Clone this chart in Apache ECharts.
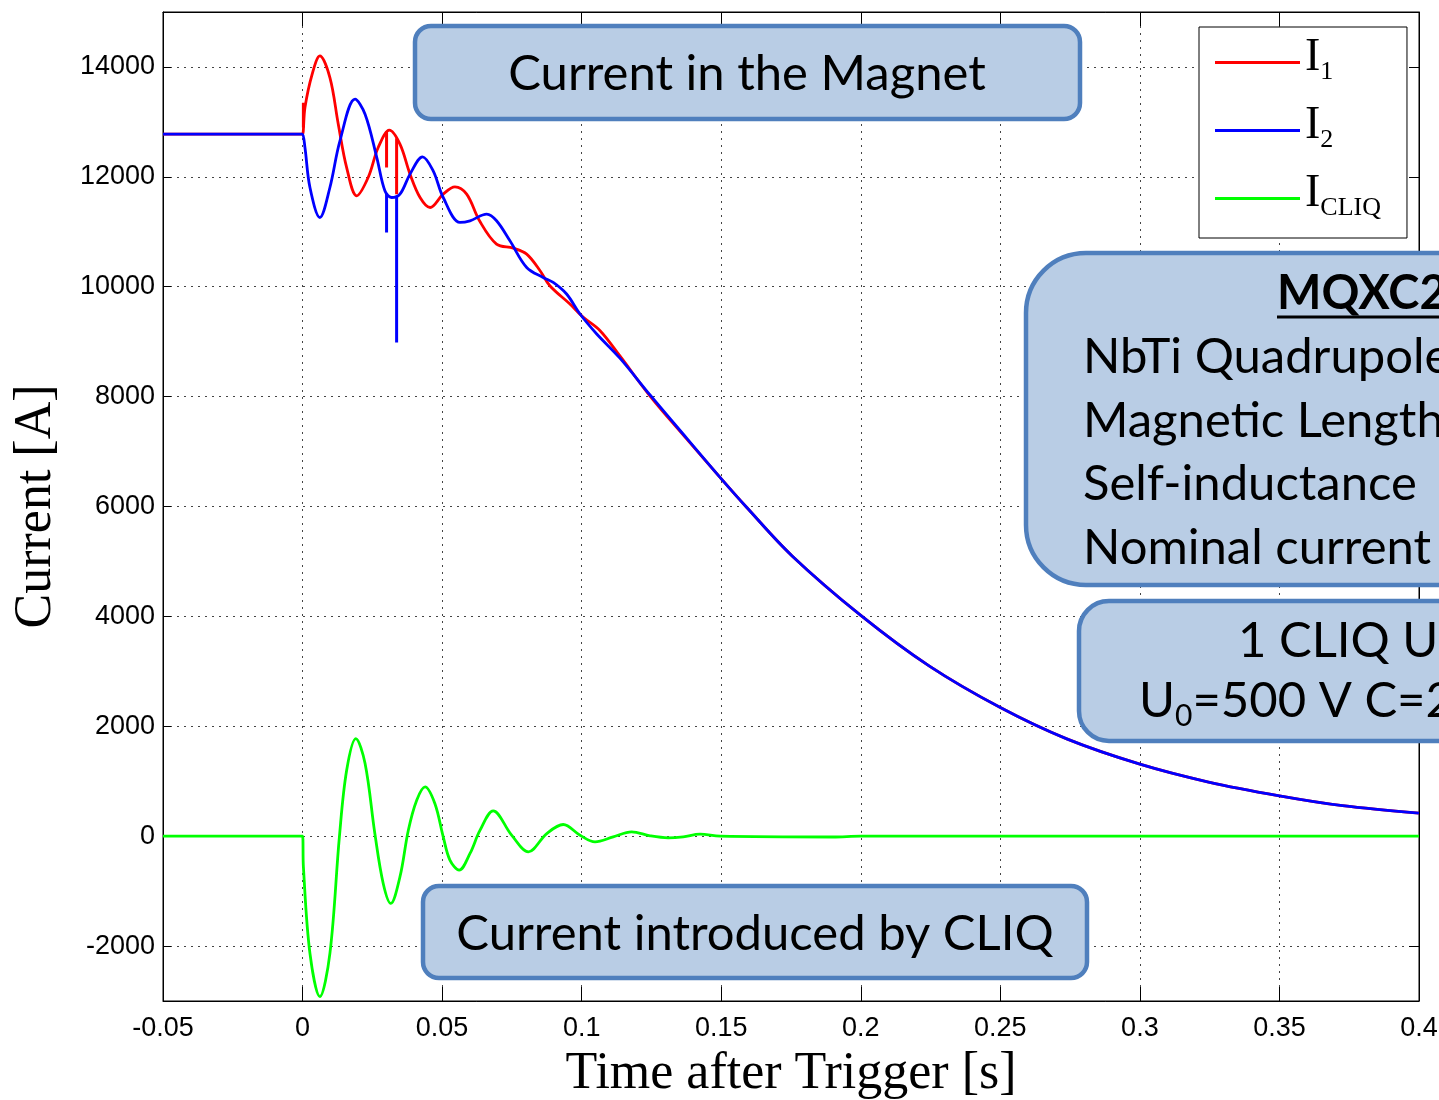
<!DOCTYPE html>
<html>
<head>
<meta charset="utf-8">
<script src="https://cdn.jsdelivr.net/npm/echarts@6/dist/echarts.min.js"></script>
<style>html,body{margin:0;padding:0;background:#fff;}#c{width:1439px;height:1100px;}</style>
</head>
<body>
<div id="c"></div>
<script>
// ---- data ----
const seriesNames = ['I1', 'I2', 'ICLIQ'];
const yTickValues = [-2000, 0, 2000, 4000, 6000, 8000, 10000, 12000, 14000];

const i1T = [-0.05, -0.0005, 0, 0.00086, 0.0034, 0.0062, 0.0098, 0.0128, 0.0158, 0.0194, 0.0235, 0.0271, 0.0311, 0.0349, 0.0385, 0.0421, 0.0457, 0.0504, 0.0546, 0.0588, 0.0634, 0.0695, 0.0755, 0.0803, 0.0851, 0.0886, 0.0958, 0.1006, 0.1066, 0.1137, 0.1245, 0.1376, 0.1502, 0.159, 0.1754, 0.2, 0.2246, 0.25, 0.2738, 0.3, 0.3246, 0.35, 0.3726, 0.4];
const i1V = [12776, 12776, 12776, 13260, 13860, 14200, 13806, 12958, 12169, 11655, 11988, 12533, 12849, 12594, 12049, 11624, 11442, 11685, 11818, 11685, 11200, 10776, 10703, 10594, 10291, 10018, 9685, 9442, 9200, 8740, 8010, 7230, 6493, 5990, 5100, 4018, 3094, 2340, 1770, 1310, 985, 734, 555, 418];

const i2T = [-0.05, -0.0005, 0, 0.00086, 0.00265, 0.0062, 0.0098, 0.0134, 0.0188, 0.0224, 0.0266, 0.0295, 0.0319, 0.0349, 0.0385, 0.043, 0.0468, 0.0504, 0.0564, 0.06, 0.066, 0.0695, 0.0743, 0.0803, 0.0862, 0.0898, 0.0946, 0.0994, 0.1054, 0.1137, 0.1245, 0.1376, 0.1502, 0.159, 0.1754, 0.2, 0.2246, 0.25, 0.2738, 0.3, 0.3246, 0.35, 0.3726, 0.4];
const i2V = [12776, 12776, 12776, 12533, 11806, 11260, 11806, 12655, 13413, 13140, 12351, 11745, 11624, 11685, 12049, 12364, 12109, 11624, 11170, 11200, 11321, 11200, 10836, 10351, 10169, 10078, 9867, 9503, 9140, 8700, 8030, 7244, 6493, 5990, 5100, 4018, 3094, 2340, 1770, 1310, 985, 734, 555, 418];

const cliqT = [-0.05, 0, 0.0003, 0.00265, 0.0062, 0.0098, 0.0132, 0.0158, 0.0191, 0.0224, 0.0259, 0.0289, 0.0316, 0.0349, 0.0379, 0.0409, 0.0439, 0.0474, 0.0504, 0.0528, 0.0561, 0.06, 0.0636, 0.0683, 0.0749, 0.0809, 0.0875, 0.0934, 0.0994, 0.1048, 0.1113, 0.1179, 0.1245, 0.131, 0.1364, 0.1424, 0.1496, 0.19, 0.2, 0.4];
const cliqV = [0, 0, -558, -2133, -2921, -2133, -12, 1200, 1776, 1321, 48, -861, -1224, -739, 109, 655, 897, 594, -12, -436, -618, -315, 109, 461, 18, -285, 48, 212, 18, -103, -12, 79, 6, -30, -12, 36, 0, -15, 0, 0];

// short vertical spikes in the measured currents
const i1SpikeT = [0.0003, 0.0301, 0.0337];
const i1SpikeTop = [13350, 12830, 12700];
const i1SpikeBottom = [12900, 12169, 11685];
const i2SpikeT = [0.0301, 0.0337];
const i2SpikeTop = [11700, 11650];
const i2SpikeBottom = [10987, 8987];

// ---- build ----
const zip = (t, v) => t.map((x, i) => [x, v[i]]);
const colors = { I1: '#ff0000', I2: '#0000ff', ICLIQ: '#00ff00' };

function mainSeries(name, t, v) {
  return {
    name, type: 'line', data: zip(t, v), showSymbol: false, symbol: 'none',
    smooth: 0.35,
    lineStyle: { color: colors[name], width: 2.8 }, itemStyle: { color: colors[name] },
    animation: false, silent: true
  };
}
function spikeSeries(name, t, top, bottom) {
  return t.map((x, i) => ({
    name, type: 'line', data: [[x, top[i]], [x, bottom[i]]], showSymbol: false, symbol: 'none',
    lineStyle: { color: colors[name], width: 3 }, itemStyle: { color: colors[name] },
    animation: false, silent: true
  }));
}

const series = [
  mainSeries('I1', i1T, i1V),
  ...spikeSeries('I1', i1SpikeT, i1SpikeTop, i1SpikeBottom),
  mainSeries('I2', i2T, i2V),
  ...spikeSeries('I2', i2SpikeT, i2SpikeTop, i2SpikeBottom),
  mainSeries('ICLIQ', cliqT, cliqV)
];

const boxFill = '#b9cde5';
const boxStroke = '#4f7fbd';
const boxFont = 'Lato, "Open Sans", sans-serif';
const BF = 49;

function box(x, y, w, h, r) {
  return { type: 'rect', shape: { x, y, width: w, height: h, r }, style: { fill: boxFill, stroke: boxStroke, lineWidth: 4.5 }, z: 100 };
}
function txt(text, x, y, size, align, extra) {
  return { type: 'text', z: 101, style: Object.assign({ text, x, y, fontSize: size, fontFamily: boxFont, fill: '#000', align: align, verticalAlign: 'middle' }, extra || {}) };
}

const chart = echarts.init(document.getElementById('c'), null, { renderer: 'canvas' });
chart.setOption({
  backgroundColor: '#fff',
  animation: false,
  grid: { left: 163, right: 20, top: 12, bottom: 99, containLabel: false, outerBoundsMode: 'none', show: true, borderColor: '#000', borderWidth: 1, backgroundColor: 'transparent' },
  legend: {
    data: seriesNames, orient: 'vertical', left: 1199, top: 27,
    backgroundColor: '#fff', borderColor: '#000', borderWidth: 1,
    padding: [8, 26, 12, 16], itemGap: 13, itemWidth: 85, itemHeight: 3, icon: 'rect',
    selectedMode: false, z: 50,
    formatter: function (n) { return { I1: '{m|I}{s|1}', I2: '{m|I}{s|2}', ICLIQ: '{m|I}{s|CLIQ}' }[n]; },
    textStyle: {
      color: '#000', fontFamily: 'Liberation Serif',
      rich: {
        m: { fontSize: 46, fontFamily: 'Liberation Serif', lineHeight: 46, padding: [0, 0, 9, 0], color: '#000' },
        s: { fontSize: 26, fontFamily: 'Liberation Serif', lineHeight: 24, verticalAlign: 'bottom', color: '#000' }
      }
    }
  },
  xAxis: [{
    type: 'value', min: -0.05, max: 0.4, interval: 0.05,
    name: 'Time after Trigger [s]', nameLocation: 'middle', nameGap: 47, nameMoveOverlap: false,
    nameTextStyle: { fontFamily: 'Liberation Serif', fontSize: 52, color: '#000' },
    axisLine: { show: true, onZero: false, lineStyle: { color: '#000', width: 1 } },
    axisTick: { show: true, inside: true, length: 14, lineStyle: { color: '#000' } },
    axisLabel: { fontFamily: 'Liberation Sans', fontSize: 27, color: '#000', margin: 14, formatter: v => String(+v.toFixed(2)) },
    splitLine: { show: true, lineStyle: { color: '#444', type: [2, 5], width: 1 } }
  }, {
    type: 'value', position: 'top', min: -0.05, max: 0.4, interval: 0.05,
    axisLine: { show: true, onZero: false, lineStyle: { color: '#000' } },
    axisTick: { show: true, inside: true, length: 14, lineStyle: { color: '#000' } },
    axisLabel: { show: false }, splitLine: { show: false }
  }],
  yAxis: [{
    type: 'value', min: -3000, max: 15000, interval: 1000,
    name: 'Current [A]', nameLocation: 'middle', nameGap: 101, nameMoveOverlap: false,
    nameTextStyle: { fontFamily: 'Liberation Serif', fontSize: 52, color: '#000' },
    axisLine: { show: true, onZero: false, lineStyle: { color: '#000', width: 1 } },
    axisTick: { show: true, inside: true, length: 8, customValues: yTickValues, lineStyle: { color: '#000' } },
    axisLabel: { fontFamily: 'Liberation Sans', fontSize: 27, color: '#000', margin: 8, customValues: yTickValues, formatter: v => String(v) },
    splitLine: { show: true, lineStyle: { color: '#444', type: [2, 5], width: 1 } }
  }, {
    type: 'value', position: 'right', min: -3000, max: 15000, interval: 1000,
    axisLine: { show: true, onZero: false, lineStyle: { color: '#000' } },
    axisTick: { show: true, inside: true, length: 10, customValues: yTickValues, lineStyle: { color: '#000' } },
    axisLabel: { show: false }, splitLine: { show: false }
  }],
  series: series,
  graphic: [
    box(415, 26, 665, 93, 16),
    txt('Current in the Magnet', 747, 74, BF, 'center'),
    box(423, 886, 664, 92, 16),
    txt('Current introduced by CLIQ', 755, 934, BF, 'center'),
    box(1026, 253, 520, 332, 60),
    txt('MQXC2', 1277, 294, 47, 'left', { fontWeight: 'bold' }),
    { type: 'line', z: 101, shape: { x1: 1277, y1: 317, x2: 1450, y2: 317 }, style: { stroke: '#000', lineWidth: 3 } },
    txt('NbTi Quadrupole', 1083, 357, BF, 'left'),
    txt('Magnetic Length', 1083, 421, BF, 'left'),
    txt('Self-inductance', 1083, 484, BF, 'left'),
    txt('Nominal current', 1083, 548, BF, 'left'),
    box(1079, 601, 460, 140, 30),
    txt('1 CLIQ Unit', 1238, 641, BF, 'left'),
    { type: 'text', z: 101, style: {
      text: '{a|U}{b|0}{a|=500 V C=28}', x: 1139, y: 706, align: 'left', verticalAlign: 'middle',
      fontFamily: boxFont, fill: '#000',
      rich: {
        a: { fontSize: BF, fontFamily: boxFont, lineHeight: 50, padding: [0, 0, 10, 0] },
        b: { fontSize: 30, fontFamily: boxFont, lineHeight: 30, verticalAlign: 'bottom' }
      }
    } }
  ]
});
</script>
</body>
</html>
